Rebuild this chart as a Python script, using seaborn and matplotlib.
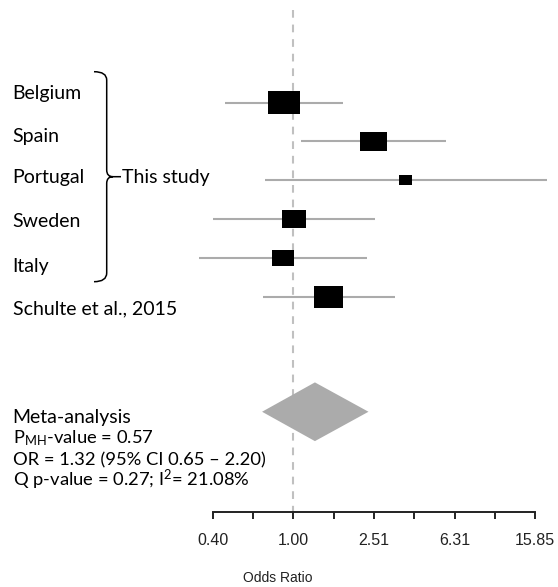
import numpy as np
import pandas as pd
import matplotlib
matplotlib.use("Agg")
import matplotlib.pyplot as plt
import seaborn as sns
from matplotlib.path import Path
from matplotlib.patches import PathPatch
from matplotlib.ticker import FixedLocator, FixedFormatter, NullLocator

# ---------------- data ----------------
studies = ["Belgium", "Spain", "Portugal", "Sweden", "Italy", "Schulte et al., 2015"]
odds_ratio = [0.90, 2.50, 3.61, 1.01, 0.89, 1.50]
ci_low = [0.46, 1.09, 0.72, 0.40, 0.34, 0.71]
ci_high = [1.76, 5.70, 18.2, 2.55, 2.32, 3.18]
weight_pct = [27.2, 18.6, 4.6, 14.7, 13.4, 21.5]

meta_or = 1.28
meta_low = 0.70
meta_high = 2.36

tick_labels = ["0.40", "1.00", "2.51", "6.31", "15.85"]
meta_title = "Meta-analysis"
meta_lines = [r"P$_{\mathregular{MH}}$-value = 0.57",
              "OR = 1.32 (95% CI 0.65 \u2013 2.20)",
              r"Q p-value = 0.27; I$^{\mathregular{2}}$= 21.08%"]

# ---------------- style ----------------
sns.set_style("white")
plt.rcParams["font.family"] = ["Lato", "DejaVu Sans"]
plt.rcParams["mathtext.default"] = "regular"

W, H = 558, 587
fig = plt.figure(figsize=(W / 100, H / 100), dpi=100)
ax = fig.add_axes([0, 0, 1, 1])

df = pd.DataFrame({"study": studies, "or": odds_ratio, "lo": ci_low,
                   "hi": ci_high, "w": weight_pct, "row": np.arange(len(studies))})

ax.set_xscale("log")

# CI lines
ax.hlines(df["row"], df["lo"], df["hi"], color="#ababab", lw=1.5, zorder=1)

# rectangular boxes sized by weight
rect = Path([(-1, -0.74), (1, -0.74), (1, 0.74), (-1, 0.74), (-1, -0.74)],
            [Path.MOVETO, Path.LINETO, Path.LINETO, Path.LINETO, Path.CLOSEPOLY])
box_w_px = 6.19 * np.sqrt(df["w"].to_numpy())
sizes = (box_w_px * 0.72) ** 2
sns.scatterplot(data=df, x="or", y="row", marker=rect, s=sizes, color="black",
                edgecolor="none", linewidth=0, legend=False, ax=ax, zorder=3)

# meta-analysis diamond
meta_row = 7.95
half_h = 0.755
ax.fill([meta_low, meta_or, meta_high, meta_or],
        [meta_row, meta_row - half_h, meta_row, meta_row + half_h],
        color="#ababab", lw=0, zorder=2)

# axis geometry
axis_row = 10.52
ax.vlines(1.0, -2.38, axis_row, color="#c0c0c0", lw=1.5, linestyles=(0, (3.7, 3.3)), zorder=0)

ax.set_xlim(10 ** -1.4549, 10 ** 1.3130)
ax.set_ylim(12.455, -2.635)
ax.set_xlabel("")
ax.set_ylabel("")

for s in ["top", "right", "left"]:
    ax.spines[s].set_visible(False)
ax.set_yticks([])
ax.spines["bottom"].set_position(("data", axis_row))
ax.spines["bottom"].set_bounds(0.4, 15.85)
ax.spines["bottom"].set_linewidth(1.4)
ax.spines["bottom"].set_color("#222222")
major = 10 ** np.linspace(-0.4, 1.2, 9)
ax.xaxis.set_major_locator(FixedLocator(major))
labels_full = []
for i in range(9):
    labels_full.append(tick_labels[i // 2] if i % 2 == 0 else "")
ax.xaxis.set_major_formatter(FixedFormatter(labels_full))
ax.xaxis.set_minor_locator(NullLocator())
ax.tick_params(axis="x", direction="out", length=5.3, width=1.4, color="#222222",
               pad=10, labelsize=11.5, labelcolor="#222222", bottom=True)
for lab in ax.get_xticklabels():
    lab.set_family(["Liberation Sans", "DejaVu Sans"])
ax.patch.set_alpha(0)

# ---------------- overlay (text, bracket) in pixel coords ----------------
ov = fig.add_axes([0, 0, 1, 1], facecolor="none")
ov.set_xlim(0, W)
ov.set_ylim(H, 0)
ov.axis("off")

label_base = [99.3, 141.7, 183.3, 227.3, 271.7, 314.0]
for name, yb in zip(studies, label_base):
    ov.text(12.7, yb, name, fontsize=14, va="baseline", ha="left", color="#000000")

ov.text(121.5, 183.3, "This study", fontsize=14, va="baseline", ha="left", color="#000000")

bx = 106.7
verts = [(94, 71.7), (bx, 71.7), (bx, 80),
         (bx, 170), (bx, 176.7), (113, 176.7), (121, 176.7),
         (113, 176.7), (bx, 176.7), (bx, 183.4),
         (bx, 273), (bx, 281.7), (94, 281.7)]
codes = [Path.MOVETO, Path.CURVE3, Path.CURVE3,
         Path.LINETO, Path.CURVE3, Path.CURVE3, Path.LINETO,
         Path.MOVETO, Path.CURVE3, Path.CURVE3,
         Path.LINETO, Path.CURVE3, Path.CURVE3]
ov.add_patch(PathPatch(Path(verts, codes), fill=False, lw=1.1, edgecolor="#000000"))

ov.text(12.7, 423.3, meta_title, fontsize=14, va="baseline", ha="left", color="#000000")
meta_base = [443.3, 465.0, 485.7]
for txt, yb in zip(meta_lines, meta_base):
    ov.text(12.7, yb, txt, fontsize=13.2, va="baseline", ha="left", color="#000000")

ov.text(278, 578, "Odds Ratio", fontsize=10, va="center", ha="center",
        family=["Liberation Sans", "DejaVu Sans"], color="#222222")

fig.savefig("out.png", dpi=100, facecolor="white")
